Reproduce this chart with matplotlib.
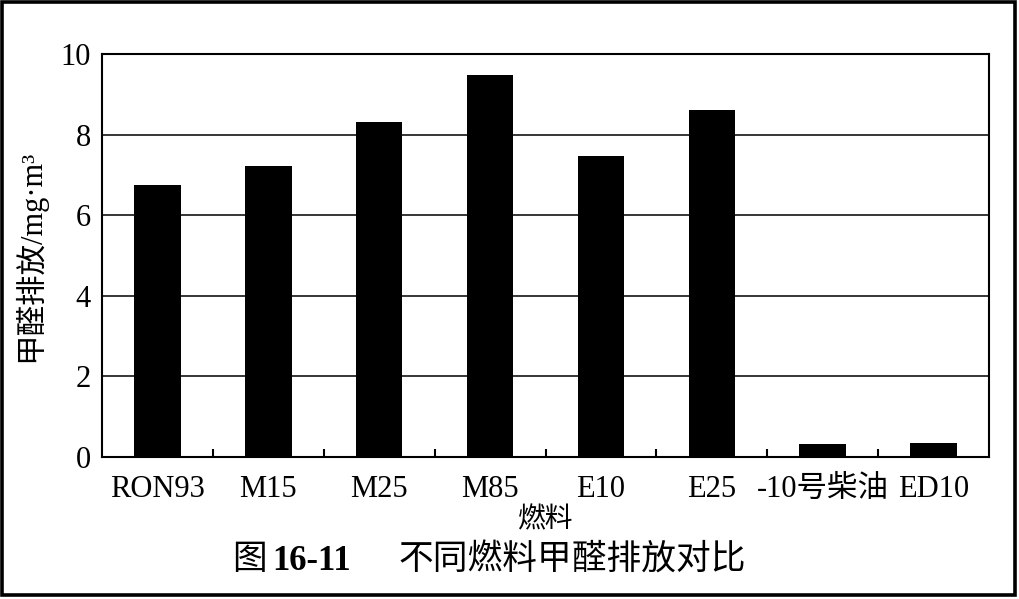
import matplotlib
matplotlib.use("Agg")
import matplotlib.pyplot as plt
from matplotlib.patches import Rectangle
import numpy as np

plt.rcParams["font.family"] = ["Liberation Serif", "Noto Sans CJK SC"]

fuels = ["RON93", "M15", "M25", "M85", "E10", "E25", "-10号柴油", "ED10"]
formaldehyde = [6.75, 7.22, 8.31, 9.48, 7.47, 8.61, 0.32, 0.35]
y_ticks = [0, 2, 4, 6, 8, 10]

W, H = 1019, 599
fig = plt.figure(figsize=(W / 100, H / 100), dpi=100)
ax = fig.add_axes([102 / W, 1 - 457 / H, (989 - 102) / W, (457 - 54) / H])

x = np.arange(len(fuels))
ax.bar(x, formaldehyde, width=0.42, color="black", zorder=3)

ax.set_xlim(-0.5, len(fuels) - 0.5)
ax.set_ylim(0, 10)
ax.set_yticks(y_ticks)
ax.set_yticklabels([str(v) for v in y_ticks], fontsize=22)
ax.set_xticks(x)
ax.set_xticklabels(fuels, fontsize=22)
ax.tick_params(axis="x", length=0, pad=13)
ax.tick_params(axis="y", length=0, pad=8)
# small inward ticks between the categories
ax.set_xticks(np.arange(0.5, len(fuels) - 0.5, 1.0), minor=True)
ax.tick_params(axis="x", which="minor", direction="in", length=6, width=1.5, color="black")

for v in y_ticks[1:-1]:
    ax.axhline(v, color="black", lw=1.1, zorder=1)
for s in ax.spines.values():
    s.set_linewidth(1.5)

ax.set_ylabel("甲醛排放/mg·m³", fontsize=22, labelpad=10)
ax.set_xlabel("燃料", fontsize=20, labelpad=2)

# caption
ty = 1 - 561 / H
fig.text(232 / W, ty, "图", fontsize=25, va="center", ha="left")
fig.text(272 / W, ty, "16-11", fontsize=25, fontweight="bold", va="center", ha="left")
fig.text(398 / W, ty, "不同燃料甲醛排放对比", fontsize=25, va="center", ha="left")

# outer frame
fig.patches.append(Rectangle((2 / W, 4 / H), (1015 - 2) / W, (598 - 5) / H,
                             transform=fig.transFigure, fill=False,
                             edgecolor="black", lw=2.6))

fig.savefig("out.png", dpi=100)
